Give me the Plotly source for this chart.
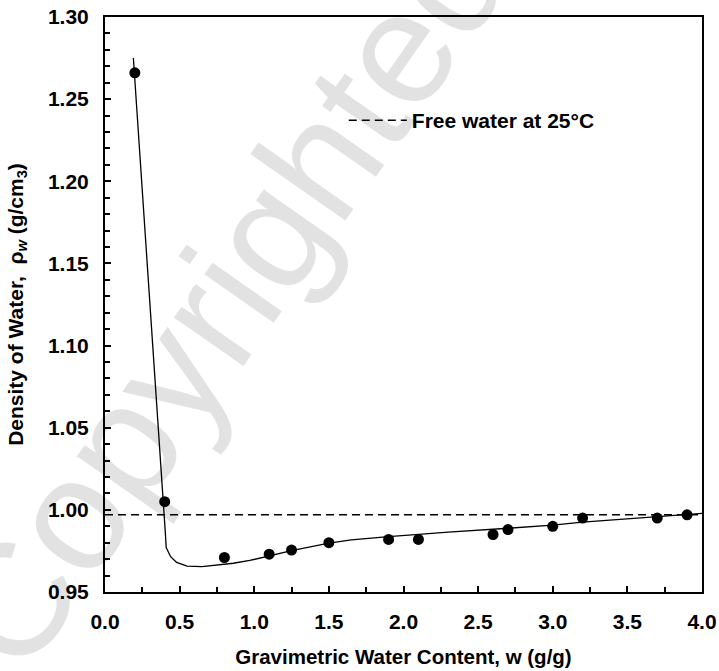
import plotly.graph_objects as go

# Measured data points (gravimetric water content w, density of water rho_w)
W_POINTS = [0.2, 0.4, 0.8, 1.1, 1.25, 1.5, 1.9, 2.1, 2.6, 2.7, 3.0, 3.2, 3.7, 3.9]
RHO_POINTS = [1.266, 1.005, 0.971, 0.973, 0.9755, 0.980, 0.982, 0.982, 0.985, 0.988, 0.990, 0.995, 0.995, 0.997]

# Fitted curve
W_CURVE = [0.19, 0.40, 0.405, 0.41, 0.44, 0.48, 0.55, 0.65, 0.75, 0.86, 0.97, 1.10, 1.25,
           1.50, 1.65, 1.90, 2.30, 2.70, 3.00, 3.20, 3.70, 3.90, 4.00]
RHO_CURVE = [1.275, 0.998, 0.985, 0.977, 0.9715, 0.968, 0.9658, 0.9655, 0.9663, 0.9675, 0.9692,
             0.9722, 0.9752, 0.9797, 0.9817, 0.9837, 0.9865, 0.9888, 0.9907, 0.9925, 0.9958,
             0.9972, 0.9978]

# Free water reference
FREE_W = [0.0, 4.0]
FREE_RHO = [0.997, 0.997]
FREE_NAME = "Free water at 25°C"

X_TICKS = [0.0, 0.5, 1.0, 1.5, 2.0, 2.5, 3.0, 3.5, 4.0]
Y_TICKS = [0.95, 1.00, 1.05, 1.10, 1.15, 1.20, 1.25, 1.30]

FONT = "Liberation Sans"

fig = go.Figure()

fig.add_trace(go.Scatter(
    x=FREE_W, y=FREE_RHO, mode="lines", name=FREE_NAME,
    line=dict(color="black", width=1.5, dash="8px,5px"), showlegend=True,
))
fig.add_trace(go.Scatter(
    x=W_CURVE, y=RHO_CURVE, mode="lines", line=dict(color="black", width=1.3),
    showlegend=False,
))
fig.add_trace(go.Scatter(
    x=W_POINTS, y=RHO_POINTS, mode="markers",
    marker=dict(color="black", size=11), showlegend=False,
))

axis_common = dict(
    showline=True, linecolor="black", linewidth=2, mirror=True,
    ticks="inside", tickcolor="black", tickwidth=1.5, ticklen=6,
    showgrid=False, zeroline=False, automargin=False, ticklabeloverflow="allow",
    tickfont=dict(family=FONT, size=21, color="black", weight="bold"),
)

fig.update_xaxes(
    range=[0, 4], tickvals=X_TICKS, tickformat=".1f",
    minor=dict(dtick=0.25, ticks="inside", ticklen=5, tickcolor="black", tickwidth=1.5, showgrid=False),
    title=dict(text="Gravimetric Water Content, w (g/g)",
               font=dict(family=FONT, size=20.5, color="black", weight="bold"), standoff=17),
    ticklabelstandoff=10,
    **axis_common,
)
fig.update_yaxes(
    range=[0.95, 1.30], tickvals=Y_TICKS, tickformat=".2f",
    minor=dict(dtick=0.01, ticks="inside", ticklen=5, tickcolor="black", tickwidth=1.5, showgrid=False),
    title=dict(text="Density of Water,  ρ<sub><i>w</i></sub> (g/cm<sub>3</sub>)",
               font=dict(family=FONT, size=21, color="black", weight="bold"), standoff=19),
    ticklabelstandoff=10,
    **axis_common,
)

fig.update_layout(
    width=719, height=671,
    margin=dict(l=105, r=17, t=17, b=79),
    plot_bgcolor="rgba(0,0,0,0)", paper_bgcolor="white",
    font=dict(family=FONT, color="black"),
    legend=dict(
        x=0.40, y=0.82, xanchor="left", yanchor="middle",
        bgcolor="rgba(0,0,0,0)", borderwidth=0, itemwidth=58,
        font=dict(family=FONT, size=21, color="black", weight="bold"),
    ),
    shapes=[dict(
        type="rect", xref="paper", yref="paper", x0=-0.02, x1=0.38, y0=0.33, y1=0.73,
        line=dict(width=0), fillcolor="rgba(0,0,0,0)", layer="below",
        label=dict(text="Copyrighted", textangle=-55, textposition="middle center",
                   font=dict(family=FONT, size=160, color="#e2e2e2")),
    )],
)

# Remove the default page margin so the figure fills the window exactly.
fig.write_html(
    "out.html",
    config={"displayModeBar": False},
    post_script="document.body.style.margin='0';document.body.style.overflow='hidden';",
)
